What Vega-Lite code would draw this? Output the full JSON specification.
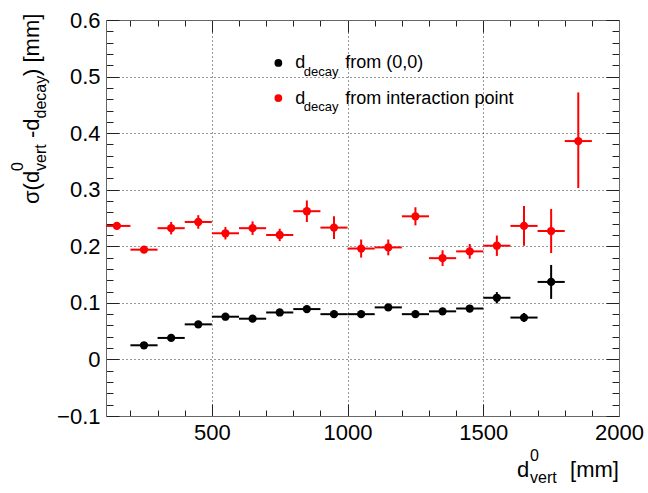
{
  "$schema": "https://vega.github.io/schema/vega-lite/v6.json",
  "width": 513,
  "height": 396,
  "autosize": "none",
  "padding": {"left": 106, "top": 20, "right": 29, "bottom": 77},
  "background": "white",
  "config": {"view": {"stroke": null}, "font": "Liberation Sans"},
  "data": {
    "values": [
      {"series": "origin", "x": 250, "xlo": 200, "xhi": 300, "y": 0.025, "ylo": 0.021, "yhi": 0.029},
      {"series": "origin", "x": 350, "xlo": 300, "xhi": 400, "y": 0.038, "ylo": 0.033, "yhi": 0.043},
      {"series": "origin", "x": 450, "xlo": 400, "xhi": 500, "y": 0.062, "ylo": 0.057, "yhi": 0.067},
      {"series": "origin", "x": 550, "xlo": 500, "xhi": 600, "y": 0.0755, "ylo": 0.0705, "yhi": 0.0805},
      {"series": "origin", "x": 650, "xlo": 600, "xhi": 700, "y": 0.072, "ylo": 0.066, "yhi": 0.078},
      {"series": "origin", "x": 750, "xlo": 700, "xhi": 800, "y": 0.083, "ylo": 0.077, "yhi": 0.089},
      {"series": "origin", "x": 850, "xlo": 800, "xhi": 900, "y": 0.089, "ylo": 0.083, "yhi": 0.095},
      {"series": "origin", "x": 950, "xlo": 900, "xhi": 1000, "y": 0.080, "ylo": 0.074, "yhi": 0.086},
      {"series": "origin", "x": 1050, "xlo": 1000, "xhi": 1100, "y": 0.080, "ylo": 0.074, "yhi": 0.086},
      {"series": "origin", "x": 1150, "xlo": 1100, "xhi": 1200, "y": 0.092, "ylo": 0.086, "yhi": 0.098},
      {"series": "origin", "x": 1250, "xlo": 1200, "xhi": 1300, "y": 0.080, "ylo": 0.074, "yhi": 0.086},
      {"series": "origin", "x": 1350, "xlo": 1300, "xhi": 1400, "y": 0.085, "ylo": 0.079, "yhi": 0.091},
      {"series": "origin", "x": 1450, "xlo": 1400, "xhi": 1500, "y": 0.090, "ylo": 0.084, "yhi": 0.096},
      {"series": "origin", "x": 1550, "xlo": 1500, "xhi": 1600, "y": 0.109, "ylo": 0.099, "yhi": 0.119},
      {"series": "origin", "x": 1650, "xlo": 1600, "xhi": 1700, "y": 0.074, "ylo": 0.066, "yhi": 0.082},
      {"series": "origin", "x": 1750, "xlo": 1700, "xhi": 1800, "y": 0.137, "ylo": 0.107, "yhi": 0.167},
      {"series": "ip", "x": 150, "xlo": 100, "xhi": 200, "y": 0.236, "ylo": 0.230, "yhi": 0.242},
      {"series": "ip", "x": 250, "xlo": 200, "xhi": 300, "y": 0.194, "ylo": 0.188, "yhi": 0.200},
      {"series": "ip", "x": 350, "xlo": 300, "xhi": 400, "y": 0.232, "ylo": 0.221, "yhi": 0.243},
      {"series": "ip", "x": 450, "xlo": 400, "xhi": 500, "y": 0.243, "ylo": 0.231, "yhi": 0.255},
      {"series": "ip", "x": 550, "xlo": 500, "xhi": 600, "y": 0.223, "ylo": 0.212, "yhi": 0.234},
      {"series": "ip", "x": 650, "xlo": 600, "xhi": 700, "y": 0.232, "ylo": 0.220, "yhi": 0.244},
      {"series": "ip", "x": 750, "xlo": 700, "xhi": 800, "y": 0.220, "ylo": 0.209, "yhi": 0.231},
      {"series": "ip", "x": 850, "xlo": 800, "xhi": 900, "y": 0.262, "ylo": 0.243, "yhi": 0.281},
      {"series": "ip", "x": 950, "xlo": 900, "xhi": 1000, "y": 0.233, "ylo": 0.213, "yhi": 0.253},
      {"series": "ip", "x": 1050, "xlo": 1000, "xhi": 1100, "y": 0.196, "ylo": 0.180, "yhi": 0.212},
      {"series": "ip", "x": 1150, "xlo": 1100, "xhi": 1200, "y": 0.198, "ylo": 0.184, "yhi": 0.212},
      {"series": "ip", "x": 1250, "xlo": 1200, "xhi": 1300, "y": 0.253, "ylo": 0.237, "yhi": 0.269},
      {"series": "ip", "x": 1350, "xlo": 1300, "xhi": 1400, "y": 0.179, "ylo": 0.165, "yhi": 0.193},
      {"series": "ip", "x": 1450, "xlo": 1400, "xhi": 1500, "y": 0.191, "ylo": 0.178, "yhi": 0.204},
      {"series": "ip", "x": 1550, "xlo": 1500, "xhi": 1600, "y": 0.201, "ylo": 0.183, "yhi": 0.219},
      {"series": "ip", "x": 1650, "xlo": 1600, "xhi": 1700, "y": 0.236, "ylo": 0.201, "yhi": 0.271},
      {"series": "ip", "x": 1750, "xlo": 1700, "xhi": 1800, "y": 0.227, "ylo": 0.188, "yhi": 0.266},
      {"series": "ip", "x": 1850, "xlo": 1800, "xhi": 1900, "y": 0.386, "ylo": 0.303, "yhi": 0.472}
    ]
  },
  "resolve": {"axis": {"x": "independent", "y": "independent"}},
  "layer": [
    {
      "mark": {"type": "circle", "opacity": 0},
      "encoding": {
        "x": {
          "field": "x", "type": "quantitative",
          "scale": {"domain": [110, 2000], "nice": false, "zero": false},
          "axis": {
            "orient": "bottom", "title": null,
            "values": [200, 300, 400, 500, 600, 700, 800, 900, 1000, 1100, 1200, 1300, 1400, 1500, 1600, 1700, 1800, 1900, 2000],
            "labelExpr": "datum.value % 500 === 0 ? format(datum.value, 'd') : ''",
            "labelFont": "Liberation Sans", "labelFontSize": 22, "labelColor": "#000000",
            "labelPadding": 18, "labelFlush": false, "labelOverlap": false, "labelBound": false,
            "tickSize": {"condition": {"test": "datum.value % 500 === 0", "value": -12}, "value": -6},
            "tickColor": "#222222", "tickWidth": 1,
            "domainColor": "#666666", "domainWidth": 1,
            "grid": true, "gridColor": "#000000", "gridDash": [1, 3], "gridWidth": 1,
            "gridOpacity": {"condition": {"test": "datum.value % 500 === 0 && datum.value < 2000", "value": 0.8}, "value": 0}
          }
        },
        "y": {
          "field": "y", "type": "quantitative",
          "scale": {"domain": [-0.1, 0.6], "nice": false, "zero": false},
          "axis": {
            "orient": "left", "title": null,
            "values": [-0.1, -0.08, -0.06, -0.04, -0.02, 0, 0.02, 0.04, 0.06, 0.08, 0.1, 0.12, 0.14, 0.16, 0.18, 0.2, 0.22, 0.24, 0.26, 0.28, 0.3, 0.32, 0.34, 0.36, 0.38, 0.4, 0.42, 0.44, 0.46, 0.48, 0.5, 0.52, 0.54, 0.56, 0.58, 0.6],
            "labelExpr": "abs(datum.value * 10 - round(datum.value * 10)) < 0.000001 ? format(datum.value, '.1~f') : ''",
            "labelFont": "Liberation Sans", "labelFontSize": 22, "labelColor": "#000000",
            "labelPadding": 19, "labelFlush": false, "labelOverlap": false, "labelBound": false,
            "tickSize": {"condition": {"test": "abs(datum.value * 10 - round(datum.value * 10)) < 0.000001", "value": -13}, "value": -7},
            "tickColor": "#222222", "tickWidth": 1,
            "domainColor": "#666666", "domainWidth": 1,
            "grid": true, "gridColor": "#000000", "gridDash": [1, 3], "gridWidth": 1,
            "gridOpacity": {"condition": {"test": "abs(datum.value * 10 - round(datum.value * 10)) < 0.000001 && datum.value > -0.09 && datum.value < 0.59", "value": 0.8}, "value": 0}
          }
        }
      }
    },
    {
      "mark": {"type": "circle", "opacity": 0},
      "encoding": {
        "x": {
          "field": "x", "type": "quantitative",
          "scale": {"domain": [110, 2000], "nice": false, "zero": false},
          "axis": {
            "orient": "top", "title": null, "labels": false, "grid": false,
            "values": [200, 300, 400, 500, 600, 700, 800, 900, 1000, 1100, 1200, 1300, 1400, 1500, 1600, 1700, 1800, 1900, 2000],
            "tickSize": {"condition": {"test": "datum.value % 500 === 0", "value": -12}, "value": -6},
            "tickColor": "#222222", "tickWidth": 1,
            "domainColor": "#666666", "domainWidth": 1
          }
        },
        "y": {
          "field": "y", "type": "quantitative",
          "scale": {"domain": [-0.1, 0.6], "nice": false, "zero": false},
          "axis": {
            "orient": "right", "title": null, "labels": false, "grid": false,
            "values": [-0.1, -0.08, -0.06, -0.04, -0.02, 0, 0.02, 0.04, 0.06, 0.08, 0.1, 0.12, 0.14, 0.16, 0.18, 0.2, 0.22, 0.24, 0.26, 0.28, 0.3, 0.32, 0.34, 0.36, 0.38, 0.4, 0.42, 0.44, 0.46, 0.48, 0.5, 0.52, 0.54, 0.56, 0.58, 0.6],
            "tickSize": {"condition": {"test": "abs(datum.value * 10 - round(datum.value * 10)) < 0.000001", "value": -13}, "value": -7},
            "tickColor": "#222222", "tickWidth": 1,
            "domainColor": "#666666", "domainWidth": 1
          }
        }
      }
    },
    {
      "mark": {"type": "rule", "strokeWidth": 2, "clip": true},
      "encoding": {
        "x": {"field": "xlo", "type": "quantitative", "scale": {"domain": [110, 2000], "nice": false, "zero": false}, "axis": null},
        "x2": {"field": "xhi"},
        "y": {"field": "y", "type": "quantitative", "scale": {"domain": [-0.1, 0.6], "nice": false, "zero": false}, "axis": null},
        "color": {"field": "series", "type": "nominal", "scale": {"domain": ["origin", "ip"], "range": ["#000000", "#ff0000"]}, "legend": null}
      }
    },
    {
      "mark": {"type": "rule", "strokeWidth": 2, "clip": true},
      "encoding": {
        "x": {"field": "x", "type": "quantitative", "scale": {"domain": [110, 2000], "nice": false, "zero": false}, "axis": null},
        "y": {"field": "ylo", "type": "quantitative", "scale": {"domain": [-0.1, 0.6], "nice": false, "zero": false}, "axis": null},
        "y2": {"field": "yhi"},
        "color": {"field": "series", "type": "nominal", "scale": {"domain": ["origin", "ip"], "range": ["#000000", "#ff0000"]}, "legend": null}
      }
    },
    {
      "mark": {"type": "circle", "size": 68, "opacity": 1},
      "encoding": {
        "x": {"field": "x", "type": "quantitative", "scale": {"domain": [110, 2000], "nice": false, "zero": false}, "axis": null},
        "y": {"field": "y", "type": "quantitative", "scale": {"domain": [-0.1, 0.6], "nice": false, "zero": false}, "axis": null},
        "color": {"field": "series", "type": "nominal", "scale": {"domain": ["origin", "ip"], "range": ["#000000", "#ff0000"]}, "legend": null}
      }
    },
    {
      "data": {"values": [{"series": "origin"}]},
      "mark": {"type": "circle", "size": 60, "opacity": 1, "color": "#000000"},
      "encoding": {
        "x": {"datum": 745, "type": "quantitative", "scale": {"domain": [110, 2000], "nice": false, "zero": false}, "axis": null},
        "y": {"datum": 0.524, "type": "quantitative", "scale": {"domain": [-0.1, 0.6], "nice": false, "zero": false}, "axis": null}
      }
    },
    {
      "data": {"values": [{"series": "ip"}]},
      "mark": {"type": "circle", "size": 60, "opacity": 1, "color": "#ff0000"},
      "encoding": {
        "x": {"datum": 745, "type": "quantitative", "scale": {"domain": [110, 2000], "nice": false, "zero": false}, "axis": null},
        "y": {"datum": 0.462, "type": "quantitative", "scale": {"domain": [-0.1, 0.6], "nice": false, "zero": false}, "axis": null}
      }
    },
    {
      "data": {"values": [{"label": "d"}]},
      "mark": {"type": "text", "align": "left", "baseline": "alphabetic", "fontSize": 18, "dx": 17, "dy": 5.5, "color": "#000000", "font": "Liberation Sans"},
      "encoding": {
        "text": {"field": "label"},
        "x": {"datum": 745, "type": "quantitative", "scale": {"domain": [110, 2000], "nice": false, "zero": false}, "axis": null},
        "y": {"datum": 0.524, "type": "quantitative", "scale": {"domain": [-0.1, 0.6], "nice": false, "zero": false}, "axis": null}
      }
    },
    {
      "data": {"values": [{"label": "decay"}]},
      "mark": {"type": "text", "align": "left", "baseline": "alphabetic", "fontSize": 13, "dx": 25.5, "dy": 13, "color": "#000000", "font": "Liberation Sans"},
      "encoding": {
        "text": {"field": "label"},
        "x": {"datum": 745, "type": "quantitative", "scale": {"domain": [110, 2000], "nice": false, "zero": false}, "axis": null},
        "y": {"datum": 0.524, "type": "quantitative", "scale": {"domain": [-0.1, 0.6], "nice": false, "zero": false}, "axis": null}
      }
    },
    {
      "data": {"values": [{"label": "from (0,0)"}]},
      "mark": {"type": "text", "align": "left", "baseline": "alphabetic", "fontSize": 18, "dx": 67, "dy": 5.5, "color": "#000000", "font": "Liberation Sans"},
      "encoding": {
        "text": {"field": "label"},
        "x": {"datum": 745, "type": "quantitative", "scale": {"domain": [110, 2000], "nice": false, "zero": false}, "axis": null},
        "y": {"datum": 0.524, "type": "quantitative", "scale": {"domain": [-0.1, 0.6], "nice": false, "zero": false}, "axis": null}
      }
    },
    {
      "data": {"values": [{"label": "d"}]},
      "mark": {"type": "text", "align": "left", "baseline": "alphabetic", "fontSize": 18, "dx": 17, "dy": 5.5, "color": "#000000", "font": "Liberation Sans"},
      "encoding": {
        "text": {"field": "label"},
        "x": {"datum": 745, "type": "quantitative", "scale": {"domain": [110, 2000], "nice": false, "zero": false}, "axis": null},
        "y": {"datum": 0.462, "type": "quantitative", "scale": {"domain": [-0.1, 0.6], "nice": false, "zero": false}, "axis": null}
      }
    },
    {
      "data": {"values": [{"label": "decay"}]},
      "mark": {"type": "text", "align": "left", "baseline": "alphabetic", "fontSize": 13, "dx": 25.5, "dy": 13, "color": "#000000", "font": "Liberation Sans"},
      "encoding": {
        "text": {"field": "label"},
        "x": {"datum": 745, "type": "quantitative", "scale": {"domain": [110, 2000], "nice": false, "zero": false}, "axis": null},
        "y": {"datum": 0.462, "type": "quantitative", "scale": {"domain": [-0.1, 0.6], "nice": false, "zero": false}, "axis": null}
      }
    },
    {
      "data": {"values": [{"label": "from interaction point"}]},
      "mark": {"type": "text", "align": "left", "baseline": "alphabetic", "fontSize": 18, "dx": 67, "dy": 5.5, "color": "#000000", "font": "Liberation Sans"},
      "encoding": {
        "text": {"field": "label"},
        "x": {"datum": 745, "type": "quantitative", "scale": {"domain": [110, 2000], "nice": false, "zero": false}, "axis": null},
        "y": {"datum": 0.462, "type": "quantitative", "scale": {"domain": [-0.1, 0.6], "nice": false, "zero": false}, "axis": null}
      }
    },
    {
      "data": {"values": [{"label": "d"}]},
      "mark": {"type": "text", "align": "left", "baseline": "alphabetic", "fontSize": 22, "dx": -102, "dy": 61, "color": "#000000", "font": "Liberation Sans"},
      "encoding": {
        "text": {"field": "label"},
        "x": {"datum": 2000, "type": "quantitative", "scale": {"domain": [110, 2000], "nice": false, "zero": false}, "axis": null},
        "y": {"datum": -0.1, "type": "quantitative", "scale": {"domain": [-0.1, 0.6], "nice": false, "zero": false}, "axis": null}
      }
    },
    {
      "data": {"values": [{"label": "0"}]},
      "mark": {"type": "text", "align": "left", "baseline": "alphabetic", "fontSize": 16, "dx": -89, "dy": 45, "color": "#000000", "font": "Liberation Sans"},
      "encoding": {
        "text": {"field": "label"},
        "x": {"datum": 2000, "type": "quantitative", "scale": {"domain": [110, 2000], "nice": false, "zero": false}, "axis": null},
        "y": {"datum": -0.1, "type": "quantitative", "scale": {"domain": [-0.1, 0.6], "nice": false, "zero": false}, "axis": null}
      }
    },
    {
      "data": {"values": [{"label": "vert"}]},
      "mark": {"type": "text", "align": "left", "baseline": "alphabetic", "fontSize": 16, "dx": -89, "dy": 67, "color": "#000000", "font": "Liberation Sans"},
      "encoding": {
        "text": {"field": "label"},
        "x": {"datum": 2000, "type": "quantitative", "scale": {"domain": [110, 2000], "nice": false, "zero": false}, "axis": null},
        "y": {"datum": -0.1, "type": "quantitative", "scale": {"domain": [-0.1, 0.6], "nice": false, "zero": false}, "axis": null}
      }
    },
    {
      "data": {"values": [{"label": "[mm]"}]},
      "mark": {"type": "text", "align": "right", "baseline": "alphabetic", "fontSize": 22, "dx": 0, "dy": 61, "color": "#000000", "font": "Liberation Sans"},
      "encoding": {
        "text": {"field": "label"},
        "x": {"datum": 2000, "type": "quantitative", "scale": {"domain": [110, 2000], "nice": false, "zero": false}, "axis": null},
        "y": {"datum": -0.1, "type": "quantitative", "scale": {"domain": [-0.1, 0.6], "nice": false, "zero": false}, "axis": null}
      }
    },
    {
      "data": {"values": [{"label": "σ(d"}]},
      "mark": {"type": "text", "align": "left", "baseline": "alphabetic", "angle": 270, "fontSize": 22, "dx": 212, "dy": -67, "color": "#000000", "font": "Liberation Sans"},
      "encoding": {
        "text": {"field": "label"},
        "x": {"datum": 110, "type": "quantitative", "scale": {"domain": [110, 2000], "nice": false, "zero": false}, "axis": null},
        "y": {"datum": -0.1, "type": "quantitative", "scale": {"domain": [-0.1, 0.6], "nice": false, "zero": false}, "axis": null}
      }
    },
    {
      "data": {"values": [{"label": "0"}]},
      "mark": {"type": "text", "align": "left", "baseline": "alphabetic", "angle": 270, "fontSize": 16, "dx": 245, "dy": -83, "color": "#000000", "font": "Liberation Sans"},
      "encoding": {
        "text": {"field": "label"},
        "x": {"datum": 110, "type": "quantitative", "scale": {"domain": [110, 2000], "nice": false, "zero": false}, "axis": null},
        "y": {"datum": -0.1, "type": "quantitative", "scale": {"domain": [-0.1, 0.6], "nice": false, "zero": false}, "axis": null}
      }
    },
    {
      "data": {"values": [{"label": "vert"}]},
      "mark": {"type": "text", "align": "left", "baseline": "alphabetic", "angle": 270, "fontSize": 16, "dx": 245, "dy": -60, "color": "#000000", "font": "Liberation Sans"},
      "encoding": {
        "text": {"field": "label"},
        "x": {"datum": 110, "type": "quantitative", "scale": {"domain": [110, 2000], "nice": false, "zero": false}, "axis": null},
        "y": {"datum": -0.1, "type": "quantitative", "scale": {"domain": [-0.1, 0.6], "nice": false, "zero": false}, "axis": null}
      }
    },
    {
      "data": {"values": [{"label": "-d"}]},
      "mark": {"type": "text", "align": "left", "baseline": "alphabetic", "angle": 270, "fontSize": 22, "dx": 278, "dy": -67, "color": "#000000", "font": "Liberation Sans"},
      "encoding": {
        "text": {"field": "label"},
        "x": {"datum": 110, "type": "quantitative", "scale": {"domain": [110, 2000], "nice": false, "zero": false}, "axis": null},
        "y": {"datum": -0.1, "type": "quantitative", "scale": {"domain": [-0.1, 0.6], "nice": false, "zero": false}, "axis": null}
      }
    },
    {
      "data": {"values": [{"label": "decay"}]},
      "mark": {"type": "text", "align": "left", "baseline": "alphabetic", "angle": 270, "fontSize": 16, "dx": 297.5, "dy": -60, "color": "#000000", "font": "Liberation Sans"},
      "encoding": {
        "text": {"field": "label"},
        "x": {"datum": 110, "type": "quantitative", "scale": {"domain": [110, 2000], "nice": false, "zero": false}, "axis": null},
        "y": {"datum": -0.1, "type": "quantitative", "scale": {"domain": [-0.1, 0.6], "nice": false, "zero": false}, "axis": null}
      }
    },
    {
      "data": {"values": [{"label": ") [mm]"}]},
      "mark": {"type": "text", "align": "left", "baseline": "alphabetic", "angle": 270, "fontSize": 22, "dx": 340, "dy": -67, "color": "#000000", "font": "Liberation Sans"},
      "encoding": {
        "text": {"field": "label"},
        "x": {"datum": 110, "type": "quantitative", "scale": {"domain": [110, 2000], "nice": false, "zero": false}, "axis": null},
        "y": {"datum": -0.1, "type": "quantitative", "scale": {"domain": [-0.1, 0.6], "nice": false, "zero": false}, "axis": null}
      }
    }
  ]
}
